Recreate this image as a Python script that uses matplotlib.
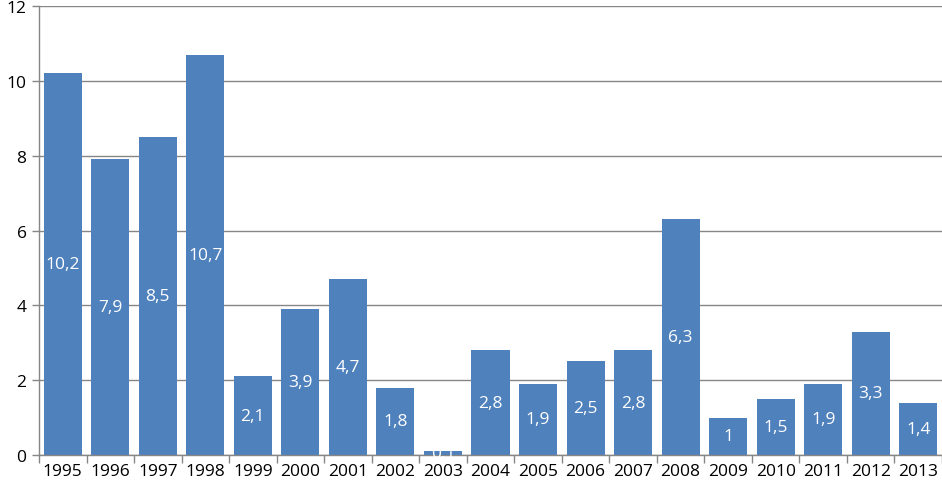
import matplotlib.pyplot as plt
import numpy as np

years = ["1995", "1996", "1997", "1998", "1999", "2000", "2001", "2002", "2003", "2004",
         "2005", "2006", "2007", "2008", "2009", "2010", "2011", "2012", "2013"]
values = [10.2, 7.9, 8.5, 10.7, 2.1, 3.9, 4.7, 1.8, 0.1, 2.8,
          1.9, 2.5, 2.8, 6.3, 1.0, 1.5, 1.9, 3.3, 1.4]
labels = ["10,2", "7,9", "8,5", "10,7", "2,1", "3,9", "4,7", "1,8", "0,1", "2,8",
          "1,9", "2,5", "2,8", "6,3", "1", "1,5", "1,9", "3,3", "1,4"]


def main():
    plt.rcParams['font.family'] = ['Open Sans', 'DejaVu Sans']
    fig = plt.figure(figsize=(9.42, 4.89), dpi=100)
    ax = fig.add_axes([39/942, 33/489, 903/942, 449/489])
    x = np.arange(len(years))
    bar_color = "#4F81BD"
    grid_color = "#868686"

    ax.bar(x, values, width=0.8, color=bar_color, zorder=2)
    for xi, v, lab in zip(x, values, labels):
        ax.text(xi, v / 2, lab, ha="center", va="center", color="white",
                fontsize=12.5, zorder=3)

    ax.set_xlim(-0.5, len(years) - 0.5)
    ax.set_ylim(0, 12)
    ax.set_yticks(range(0, 13, 2))
    ax.set_yticklabels([str(t) for t in range(0, 13, 2)], fontsize=12.5)
    ax.yaxis.grid(True, color=grid_color, linewidth=1)
    ax.set_axisbelow(True)

    # category labels centred, ticks on category boundaries
    ax.set_xticks(x)
    ax.set_xticklabels(years, fontsize=12.5)
    ax.tick_params(axis="x", length=0, pad=6)
    ax.set_xticks(np.arange(-0.5, len(years), 1), minor=True)
    ax.tick_params(axis="x", which="minor", length=6, color=grid_color, width=1)
    ax.tick_params(axis="y", length=5, color=grid_color, width=1, pad=4)

    for s in ["top", "right"]:
        ax.spines[s].set_visible(False)
    for s in ["left", "bottom"]:
        ax.spines[s].set_color(grid_color)
        ax.spines[s].set_linewidth(1)

    fig.savefig("out.png", dpi=100)


if __name__ == "__main__":
    main()
